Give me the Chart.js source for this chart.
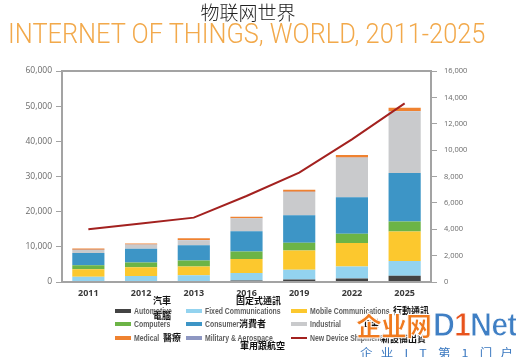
<!DOCTYPE html>
<html>
<head>
<meta charset="utf-8">
<script src="https://cdn.jsdelivr.net/npm/chart.js@4"></script>
<style>
  html, body { margin:0; padding:0; background:#fff; }
  body { width:516px; height:357px; position:relative; overflow:hidden; }
  #wrap { position:absolute; left:0; top:0; width:516px; height:357px; }
  .abs { position:absolute; white-space:nowrap; }
  #cn { left:0; width:496px; top:1px; text-align:center; font-family:"Noto Sans CJK SC"; font-size:19px; line-height:22px; color:#222; font-weight:300; }
  #en { left:8px; top:18px; font-family:Roboto; font-weight:300; font-size:28px; line-height:32px; color:#f2a94b; transform-origin:0 0; }
  .lg { position:absolute; font-family:"Liberation Sans"; font-weight:bold; font-size:9.5px; color:#5e5e5e; line-height:11px; white-space:nowrap; transform-origin:0 0; }
  .sw { position:absolute; width:16px; height:4px; }
  .zh { position:absolute; font-family:"Noto Sans CJK TC"; font-weight:700; font-size:9px; line-height:10px; color:#111; white-space:nowrap; }
  #wm1 { left:356px; top:308px; font-family:"Noto Sans CJK SC"; font-weight:900; font-size:26px; line-height:34px; color:#f07a1e; -webkit-text-stroke:1px #fff; letter-spacing:-1px; }
  #wm2 { left:433px; top:306px; font-family:"Liberation Sans"; font-weight:bold; font-size:33px; line-height:38px; color:#3f7fc4; -webkit-text-stroke:1px #fff; letter-spacing:-1px; transform-origin:0 0; }
  #wm3 { left:360px; top:345px; font-family:"Noto Sans CJK SC"; font-size:11px; line-height:14px; color:#3a78c0; transform-origin:0 0; }
</style>
</head>
<body>
<div id="wrap"><canvas id="c" width="516" height="357"></canvas></div>
<div id="cn" class="abs">物联网世界</div>
<div id="en" class="abs">INTERNET OF THINGS, WORLD, 2011-2025</div>
<div id="legend"></div>
<div id="wm1" class="abs">企业网</div>
<div id="wm2" class="abs">D<span style="color:#e8531c">1</span>Net</div>
<div id="wm3" class="abs">企&nbsp;&nbsp;&nbsp;业&nbsp;&nbsp;&nbsp;&nbsp;I&nbsp;&nbsp;&nbsp;&nbsp;T&nbsp;&nbsp;&nbsp;&nbsp;第&nbsp;&nbsp;&nbsp;&nbsp;1&nbsp;&nbsp;&nbsp;&nbsp;门&nbsp;&nbsp;&nbsp;户</div>
<script>
// ---- data ----
const years = ['2011','2012','2013','2016','2019','2022','2025'];
const automotive = [200, 200, 200, 450, 700, 1000, 1800];
const fixedComm  = [1300, 1540, 1700, 2100, 2750, 3400, 4200];
const mobileComm = [2100, 2450, 2480, 4000, 5500, 6700, 8350];
const computers  = [1140, 1340, 1700, 2100, 2200, 2600, 2850];
const consumer   = [3530, 3900, 4360, 5800, 7800, 10400, 13760];
const industrial = [850, 1140, 1420, 3600, 6650, 11200, 17580];
const military   = [80, 80, 80, 80, 80, 80, 80];
const medical    = [300, 300, 480, 450, 570, 750, 950];
const shipments  = [4000, 4440, 4880, 6520, 8290, 10820, 13550];
const leftTicks  = [0, 10000, 20000, 30000, 40000, 50000, 60000];
const rightTicks = [0, 2000, 4000, 6000, 8000, 10000, 12000, 14000, 16000];

const C = {
  auto:'#434343', fixed:'#93d3ef', mobile:'#fcc82e', comp:'#6cb446',
  cons:'#3d95c6', ind:'#c9cacc', med:'#ef8230', mil:'#8e97c2', line:'#a3211f'
};

function bar(label, data, color){
  return { type:'bar', label, data, backgroundColor:color, borderWidth:0,
           yAxisID:'y', stack:'s', order:2, barPercentage:0.61, categoryPercentage:1.0 };
}

const frame = {
  id:'frame',
  afterDatasetsDraw(chart){
    const a = chart.chartArea, ctx = chart.ctx;
    ctx.save();
    ctx.strokeStyle = '#a3a3a3'; ctx.lineWidth = 2;
    ctx.strokeRect(a.left, a.top, a.right - a.left, a.bottom - a.top);
    ctx.restore();
  }
};

const chart = new Chart(document.getElementById('c'), {
  data: {
    labels: years,
    datasets: [
      { type:'line', label:'New Device Shipments', data:shipments, yAxisID:'y1',
        borderColor:C.line, backgroundColor:C.line, borderWidth:2, pointRadius:0,
        tension:0, order:0 },
      bar('Automotive', automotive, C.auto),
      bar('Fixed Communications', fixedComm, C.fixed),
      bar('Mobile Communications', mobileComm, C.mobile),
      bar('Computers', computers, C.comp),
      bar('Consumer', consumer, C.cons),
      bar('Industrial', industrial, C.ind),
      bar('Military & Aerospace', military, C.mil),
      bar('Medical', medical, C.med)
    ]
  },
  options: {
    responsive:false, animation:false, locale:'en-US',
    layout:{ padding:{ top:71, left:0, right:0, bottom:0 } },
    plugins:{ legend:{display:false}, title:{display:false}, tooltip:{enabled:false} },
    scales:{
      x:{ stacked:true, offset:true,
          grid:{ display:false, drawTicks:false }, border:{ display:false },
          ticks:{ color:'#3a3a3a', font:{ family:'Open Sans', size:9, weight:'bold' }, padding:6, maxRotation:0 },
          afterFit(s){ s.height = 75; } },
      y:{ stacked:true, position:'left', min:0, max:60000,
          afterBuildTicks(s){ s.ticks = leftTicks.map(v => ({value:v})); },
          grid:{ drawOnChartArea:false, drawTicks:true, tickLength:6, color:'#a3a3a3', lineWidth:1 },
          border:{ display:false },
          ticks:{ color:'#6a6a6a', font:{ family:'Open Sans', size:8.5 }, padding:4 },
          afterFit(s){ s.width = 62; } },
      y1:{ position:'right', min:0, max:16000,
          afterBuildTicks(s){ s.ticks = rightTicks.map(v => ({value:v})); },
          grid:{ drawOnChartArea:false, drawTicks:true, tickLength:6, color:'#a3a3a3', lineWidth:1 },
          border:{ display:false },
          ticks:{ color:'#6a6a6a', font:{ family:'Open Sans', size:7.5 }, padding:7 },
          afterFit(s){ s.width = 85; } }
    }
  },
  plugins:[frame]
});

// title fit
const en = document.getElementById('en');
en.style.transform = 'scaleX(' + (477 / en.offsetWidth) + ')';
const wm2 = document.getElementById('wm2');
wm2.style.transform = 'scaleX(' + (83 / wm2.offsetWidth) + ')';
const wm3 = document.getElementById('wm3');
wm3.style.transform = 'scaleX(' + (153 / wm3.offsetWidth) + ')';

// ---- legend (HTML) ----
const legendItems = [
  ['Automotive', C.auto, 115, 311, 'bar'],
  ['Fixed Communications', C.fixed, 186, 311, 'bar'],
  ['Mobile Communications', C.mobile, 291, 311, 'bar'],
  ['Computers', C.comp, 115, 324, 'bar'],
  ['Consumer', C.cons, 186, 324, 'bar'],
  ['Industrial', C.ind, 291, 324, 'bar'],
  ['Medical', C.med, 115, 338, 'bar'],
  ['Military & Aerospace', C.mil, 186, 338, 'bar'],
  ['New Device Shipments', C.line, 291, 338, 'line']
];
const lg = document.getElementById('legend');
const texts = [];
legendItems.forEach(([t, col, x, y, kind]) => {
  const sw = document.createElement('div');
  sw.className = 'sw';
  sw.style.left = x + 'px';
  sw.style.top = (y - (kind === 'line' ? 1 : 2)) + 'px';
  sw.style.background = col;
  if (kind === 'line') sw.style.height = '2px';
  lg.appendChild(sw);
  const tx = document.createElement('div');
  tx.className = 'lg';
  tx.textContent = t;
  tx.style.left = (x + 19) + 'px';
  tx.style.top = (y - 6) + 'px';
  lg.appendChild(tx);
  texts.push(tx);
});
const fcW = texts[1].offsetWidth;
const sx = 76 / fcW;
texts.forEach(tx => tx.style.transform = 'scaleX(' + sx + ')');

const zhNotes = [
  ['汽車', 153, 296], ['電腦', 153, 311], ['固定式通訊', 236, 296],
  ['行動通訊', 393, 306], ['消費者', 239, 319], ['工業', 361, 319],
  ['醫療', 163, 333], ['軍用跟航空', 240, 341], ['新設備出貨', 381, 334]
];
zhNotes.forEach(([t, x, y]) => {
  const d = document.createElement('div');
  d.className = 'zh'; d.textContent = t;
  d.style.left = x + 'px'; d.style.top = y + 'px';
  lg.appendChild(d);
});
['wm1','wm2','wm3'].forEach(id => document.body.appendChild(document.getElementById(id)));
</script>
</body>
</html>
